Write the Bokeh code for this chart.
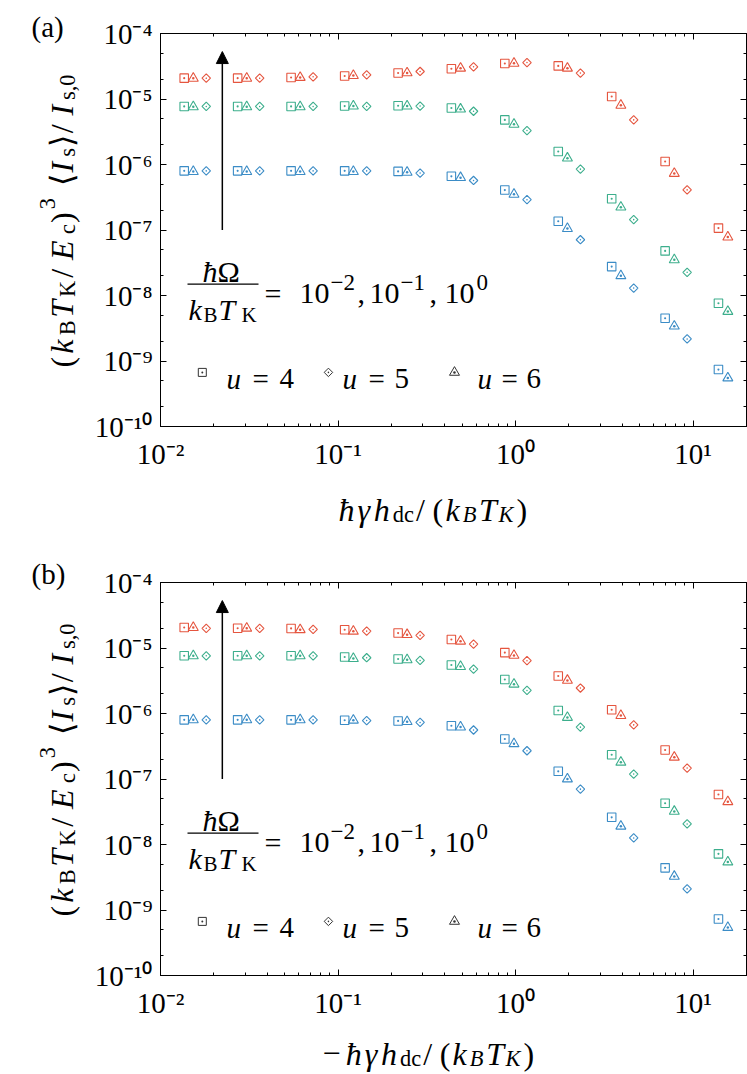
import math
from bokeh.plotting import figure
from bokeh.models import (Range1d, FixedTicker, LogAxis, Label, Arrow, NormalHead,
                          BoxAnnotation, CustomJSTickFormatter, GridBox)
from bokeh.embed import file_html
from bokeh.resources import INLINE

# ---------------- data ----------------
# x positions of each marker type (hbar*gamma*h_dc/(kB TK))
X_SQ = [0.0136, 0.0272, 0.0544, 0.109, 0.218, 0.435, 0.87, 1.74, 3.48, 6.96, 13.9]
X_TRI = [0.0153, 0.0306, 0.0612, 0.122, 0.245, 0.49, 0.98, 1.96, 3.92, 7.84, 15.7]
X_DIA = [0.0181, 0.0362, 0.0724, 0.145, 0.29, 0.58, 1.16, 2.32, 4.63, 9.26]

# panel (a): hbar*Omega/(kB TK) = 1 (red), 0.1 (green), 0.01 (blue)
A_RED_SQ = [2.08e-5, 2.08e-5, 2.13e-5, 2.24e-5, 2.49e-5, 2.89e-5, 3.49e-5, 3.2e-5, 1.09e-5, 1.11e-6, 1.07e-7]
A_RED_TRI = [2.07e-5, 2.07e-5, 2.13e-5, 2.28e-5, 2.5e-5, 2.95e-5, 3.5e-5, 2.95e-5, 8.0e-6, 7.3e-7, 7.8e-8]
A_RED_DIA = [2.08e-5, 2.08e-5, 2.18e-5, 2.34e-5, 2.63e-5, 3.1e-5, 3.6e-5, 2.49e-5, 4.8e-6, 4.1e-7]
A_GRN_SQ = [7.7e-6, 7.7e-6, 7.7e-6, 7.8e-6, 7.9e-6, 7.3e-6, 4.8e-6, 1.58e-6, 3.0e-7, 4.8e-8, 7.6e-9]
A_GRN_TRI = [7.6e-6, 7.6e-6, 7.6e-6, 7.8e-6, 7.8e-6, 7.0e-6, 4.1e-6, 1.25e-6, 2.23e-7, 3.5e-8, 5.7e-9]
A_GRN_DIA = [7.7e-6, 7.7e-6, 7.7e-6, 7.7e-6, 7.8e-6, 6.5e-6, 3.3e-6, 8.5e-7, 1.44e-7, 2.26e-8]
A_BLU_SQ = [8.0e-7, 8.0e-7, 8.0e-7, 8.0e-7, 7.85e-7, 6.6e-7, 4.07e-7, 1.36e-7, 2.76e-8, 4.5e-9, 7.4e-10]
A_BLU_TRI = [7.8e-7, 7.8e-7, 7.8e-7, 7.8e-7, 7.6e-7, 6.3e-7, 3.5e-7, 1.05e-7, 2.0e-8, 3.4e-9, 5.5e-10]
A_BLU_DIA = [8.0e-7, 8.0e-7, 8.0e-7, 8.0e-7, 7.4e-7, 5.7e-7, 2.9e-7, 7.1e-8, 1.3e-8, 2.17e-9]

# panel (b)
B_RED_SQ = [2.06e-5, 2.0e-5, 1.99e-5, 1.9e-5, 1.69e-5, 1.35e-5, 8.5e-6, 3.73e-6, 1.14e-6, 2.77e-7, 5.8e-8]
B_RED_TRI = [2.05e-5, 2.0e-5, 1.9e-5, 1.8e-5, 1.6e-5, 1.27e-5, 7.7e-6, 3.2e-6, 9.3e-7, 2.15e-7, 4.5e-8]
B_RED_DIA = [2.0e-5, 2.0e-5, 1.92e-5, 1.81e-5, 1.56e-5, 1.15e-5, 6.4e-6, 2.45e-6, 6.7e-7, 1.47e-7]
B_GRN_SQ = [7.6e-6, 7.6e-6, 7.6e-6, 7.3e-6, 6.8e-6, 5.5e-6, 3.3e-6, 1.11e-6, 2.35e-7, 4.26e-8, 7.2e-9]
B_GRN_TRI = [7.6e-6, 7.6e-6, 7.6e-6, 6.9e-6, 6.6e-6, 5.2e-6, 2.8e-6, 8.7e-7, 1.8e-7, 3.2e-8, 5.4e-9]
B_GRN_DIA = [7.6e-6, 7.6e-6, 7.6e-6, 7.1e-6, 6.45e-6, 4.76e-6, 2.25e-6, 6.2e-7, 1.19e-7, 2.06e-8]
B_BLU_SQ = [8.0e-7, 8.0e-7, 8.0e-7, 7.9e-7, 7.7e-7, 6.5e-7, 4.08e-7, 1.31e-7, 2.6e-8, 4.4e-9, 7.3e-10]
B_BLU_TRI = [8.0e-7, 8.0e-7, 8.0e-7, 7.9e-7, 7.5e-7, 6.2e-7, 3.45e-7, 1.0e-7, 1.9e-8, 3.26e-9, 5.4e-10]
B_BLU_DIA = [8.0e-7, 8.0e-7, 8.0e-7, 7.8e-7, 7.3e-7, 5.6e-7, 2.7e-7, 7.0e-8, 1.26e-8, 2.1e-9]

X_TICKS = [1e-2, 1e-1, 1e0, 1e1]
X_TICK_LABELS = ["10\u207b\u00b2", "10\u207b\u00b9", "10\u2070", "10\u00b9"]
Y_TICKS = [1e-10, 1e-9, 1e-8, 1e-7, 1e-6, 1e-5, 1e-4]
Y_TICK_LABELS = ["10\u207b\u00b9\u2070", "10\u207b\u2079", "10\u207b\u2078", "10\u207b\u2077",
                 "10\u207b\u2076", "10\u207b\u2075", "10\u207b\u2074"]
X_MINOR_MULT = [2, 3, 4, 5, 6, 7, 8, 9]
Y_MINOR_MULT = [2, 5]

LEGEND_X = [0.0172, 0.0883, 0.453]   # square, diamond, triangle keys
LEGEND_Y = 6.7e-10
ARROW_X = 0.0223

RED, GREEN, BLUE = "#E5553F", "#3CAE8C", "#3B8CC6"
SERIF = "Liberation Serif"
TICK_FS = "29px"
W, H = 747, 1074


def label(p, s, x, y, size, style="normal", angle=0.0, units="screen"):
    p.add_layout(Label(x=x, y=y, x_units=units, y_units=units, text=s,
                       text_font=SERIF, text_font_size=f"{size:.1f}px", text_font_style=style,
                       text_color="black", text_align="left", text_baseline="alphabetic",
                       angle=angle))


def run_text(p, pieces, x0, y0, f_pos, f_glyph, vertical=False, units="data"):
    pos = 0.0
    for s, style, level, em in pieces:
        scale = 0.7 if level else 1.0
        shift = {0: 0.0, -1: -0.16 * f_pos, 1: 0.40 * f_pos}[level]
        if s.strip():
            if vertical:
                label(p, s, x0 - shift, y0 + pos, f_glyph * scale, style,
                      angle=math.pi / 2, units=units)
            else:
                label(p, s, x0 + pos, y0 + shift, f_glyph * scale, style, units=units)
        pos += em * f_pos * scale


Y_LABEL = [("(", "normal", 0, .389), ("k", "italic", 0, .521), ("B", "normal", -1, .708),
           ("T", "italic", 0, .584), ("K", "normal", -1, .778), ("/", "normal", 0, .5),
           ("E", "italic", 0, .738), ("c", "normal", -1, .444), (")", "normal", 0, .389),
           ("3", "normal", 1, .5), (" ", "normal", 0, .3), ("\u27e8", "normal", 0, .389),
           ("I", "italic", 0, .44), ("s", "normal", -1, .394), ("\u27e9", "normal", 0, .389),
           ("/", "normal", 0, .5), ("I", "italic", 0, .44), ("s,0", "normal", -1, 1.172)]

X_LABEL = [("\u0127", "italic", 0, .576), ("\u03b3", "italic", 0, .49), ("h", "italic", 0, .576),
           ("dc", "normal", -1, 1.0), ("/", "normal", 0, .5), ("(", "normal", 0, .389),
           ("k", "italic", 0, .521), ("B", "italic", -1, .708), ("T", "italic", 0, .584),
           ("K", "italic", -1, .778), (")", "normal", 0, .389)]


def style_axis(ax, labels=True):
    ax.axis_line_color = "black"
    ax.axis_line_width = 1
    ax.major_tick_in = 6
    ax.major_tick_out = 0
    ax.minor_tick_in = 3
    ax.minor_tick_out = 0
    ax.major_tick_line_color = "black"
    ax.minor_tick_line_color = "black"
    if labels:
        ax.major_label_text_font = SERIF
        ax.major_label_text_font_size = TICK_FS
        ax.major_label_text_color = "black"
    else:
        ax.formatter = CustomJSTickFormatter(code="return ''")
        ax.major_label_text_font_size = "2px"
        ax.major_label_standoff = 0


def make_panel(series, top_b, bottom_b):
    p = figure(x_axis_type="log", y_axis_type="log",
               x_range=Range1d(0.01, 20), y_range=Range1d(1e-10, 1e-4),
               frame_width=586, frame_height=393,
               min_border_left=160, min_border_right=1,
               min_border_top=top_b, min_border_bottom=bottom_b,
               output_backend="svg", toolbar_location=None)
    p.grid.visible = False
    p.outline_line_color = "black"
    p.background_fill_color = "white"
    p.border_fill_color = "white"

    xminor = [m * t for t in [1e-3] + X_TICKS for m in X_MINOR_MULT]
    yminor = [m * t for t in Y_TICKS for m in Y_MINOR_MULT]

    p.xaxis.ticker = FixedTicker(ticks=X_TICKS, minor_ticks=xminor)
    p.yaxis.ticker = FixedTicker(ticks=Y_TICKS, minor_ticks=yminor)
    p.xaxis.major_label_overrides = dict(zip(X_TICKS, X_TICK_LABELS))
    p.yaxis.major_label_overrides = dict(zip(Y_TICKS, Y_TICK_LABELS))
    style_axis(p.xaxis[0])
    style_axis(p.yaxis[0])
    p.xaxis.major_label_standoff = 11
    p.yaxis.major_label_standoff = 8

    top = LogAxis(ticker=FixedTicker(ticks=X_TICKS, minor_ticks=xminor))
    right = LogAxis(ticker=FixedTicker(ticks=Y_TICKS, minor_ticks=yminor))
    style_axis(top, labels=False)
    style_axis(right, labels=False)
    p.add_layout(top, "above")
    p.add_layout(right, "right")

    for color, (ysq, ytri, ydia) in series:
        p.scatter(X_SQ, ysq, marker="square_dot", size=8.5, fill_color=None,
                  line_color=color, line_width=1.1)
        p.scatter(X_TRI, ytri, marker="triangle_dot", size=10, fill_color=None,
                  line_color=color, line_width=1.1)
        p.scatter(X_DIA, ydia, marker="square_dot", angle=math.pi / 4, size=6,
                  fill_color=None, line_color=color, line_width=1.1)

    # legend keys
    key = "#333333"
    p.scatter([LEGEND_X[0]], [LEGEND_Y], marker="square_dot", size=8, fill_color=None,
              line_color=key, line_width=1)
    p.scatter([LEGEND_X[1]], [LEGEND_Y], marker="square_dot", angle=math.pi / 4, size=6,
              fill_color=None, line_color=key, line_width=1)
    p.scatter([LEGEND_X[2]], [LEGEND_Y], marker="triangle_dot", size=10, fill_color=None,
              line_color=key, line_width=1)
    for (su, se, sd), d in zip([(66, 92, 119), (182, 208, 234), (317, 341, 366)], ["4", "5", "6"]):
        label(p, "u", su, 48, 29, "italic")
        label(p, "=", se, 48, 29)
        label(p, d, sd, 48, 29)

    # arrow
    p.add_layout(Arrow(end=NormalHead(size=12, fill_color="black", line_color="black"),
                       x_start=ARROW_X, y_start=1.0e-7, x_end=ARROW_X, y_end=5.3e-5,
                       line_color="black", line_width=1.5))

    # fraction annotation
    label(p, "\u0127", 42, 155, 30, "italic")
    label(p, "\u03a9", 57, 155, 30)
    p.add_layout(BoxAnnotation(left=27, right=98, bottom=141.8, top=143.1,
                               left_units="screen", right_units="screen",
                               bottom_units="screen", top_units="screen",
                               fill_color="black", fill_alpha=1, line_color=None))
    label(p, "k", 28, 117, 30, "italic")
    label(p, "B", 43, 112, 21)
    label(p, "T", 58, 117, 30, "italic")
    label(p, "K", 81, 112, 21)
    label(p, "=", 104, 133, 30)
    label(p, "10", 139, 133, 30)
    label(p, "\u22122", 170, 144, 23)
    label(p, ",", 197, 133, 30)
    label(p, "10", 209, 133, 30)
    label(p, "\u22121", 240, 144, 23)
    label(p, ",", 269, 133, 30)
    label(p, "10", 284, 133, 30)
    label(p, "0", 316, 144, 23)
    return p


series_a = [(RED, (A_RED_SQ, A_RED_TRI, A_RED_DIA)),
            (GREEN, (A_GRN_SQ, A_GRN_TRI, A_GRN_DIA)),
            (BLUE, (A_BLU_SQ, A_BLU_TRI, A_BLU_DIA))]
series_b = [(RED, (B_RED_SQ, B_RED_TRI, B_RED_DIA)),
            (GREEN, (B_GRN_SQ, B_GRN_TRI, B_GRN_DIA)),
            (BLUE, (B_BLU_SQ, B_BLU_TRI, B_BLU_DIA))]

pa = make_panel(series_a, 33, 131)   # frame: y 33..426 on the page
pb = make_panel(series_b, 25, 99)    # frame: y 582..975 on the page

# transparent text layer over both panels for texts that lie outside the frames
ov = figure(width=W, height=H, x_range=Range1d(0, W), y_range=Range1d(0, H),
            x_axis_location=None, y_axis_location=None,
            min_border=0, min_border_left=0, min_border_right=0,
            min_border_top=0, min_border_bottom=0,
            output_backend="svg", toolbar_location=None)
ov.frame_align = False
ov.background_fill_color = None
ov.border_fill_color = None
ov.outline_line_color = None
ov.grid.visible = False

# page coordinates: x from left, y = H - (pixels from top)
label(ov, "(a)", 31, H - 26, 29, units="data")
label(ov, "(b)", 31, H - 573, 29, units="data")
run_text(ov, Y_LABEL, 61, H - 367, 35.4, 32, vertical=True)
run_text(ov, Y_LABEL, 61, H - 916, 35.4, 32, vertical=True)
run_text(ov, X_LABEL, 338, H - 509, 33.1, 32)
run_text(ov, [("\u2212", "normal", 0, .7)] + X_LABEL, 322, H - 1053, 33.1, 32)

layout = GridBox(children=[(pa, 0, 0), (pb, 1, 0), (ov, 0, 0, 2, 1)])
open("out.html", "w").write(file_html(layout, INLINE))
